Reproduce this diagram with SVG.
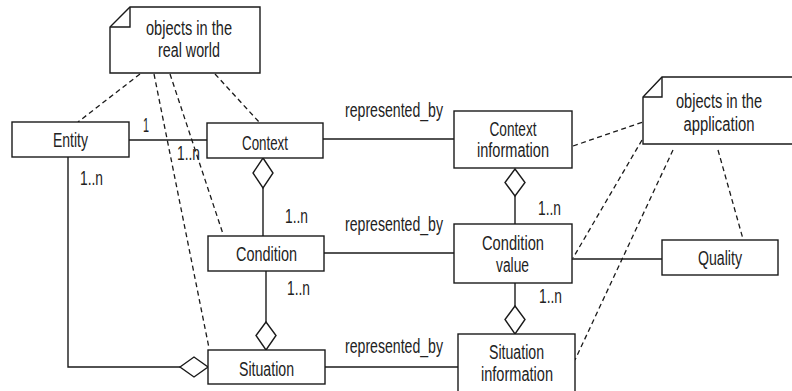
<svg xmlns="http://www.w3.org/2000/svg" width="792" height="391" viewBox="0 0 792 391">
  <style>
    .box { fill: #fff; stroke: #1a1a1a; stroke-width: 1.4; }
    .line { fill: none; stroke: #1a1a1a; stroke-width: 1.4; }
    .dash { fill: none; stroke: #1a1a1a; stroke-width: 1.3; stroke-dasharray: 5 3.5; }
    .dia { fill: #fff; stroke: #1a1a1a; stroke-width: 1.4; }
    text { font-family: "Liberation Sans", Arial, sans-serif; font-size: 20px; fill: #222; }
    .c { text-anchor: middle; }
  </style>
  <rect width="792" height="391" fill="#fff"/>

  <!-- connectors -->
  <g id="connectors">
    <!-- dashed note links -->
    <line class="dash" x1="140" y1="74" x2="78" y2="122"/>
    <line class="dash" x1="154" y1="74" x2="209" y2="348"/>
    <line class="dash" x1="170" y1="74" x2="223" y2="234"/>
    <line class="dash" x1="215" y1="74" x2="259" y2="122"/>
    <line class="dash" x1="573" y1="146" x2="643" y2="122"/>
    <line class="dash" x1="642" y1="140" x2="573" y2="258"/>
    <line class="dash" x1="673" y1="150" x2="575" y2="360"/>
    <line class="dash" x1="718" y1="150" x2="743" y2="239"/>

    <!-- associations -->
    <line class="line" x1="129" y1="140" x2="207" y2="140"/>
    <polyline class="line" points="68,157 68,367 180,367"/>
    <line class="line" x1="323" y1="139" x2="454" y2="139"/>
    <line class="line" x1="324" y1="253" x2="454" y2="253"/>
    <line class="line" x1="325" y1="367" x2="458" y2="367"/>
    <line class="line" x1="572" y1="259" x2="662" y2="259"/>
    <line class="line" x1="263" y1="188" x2="263" y2="236"/>
    <line class="line" x1="266" y1="271" x2="266" y2="322"/>
    <line class="line" x1="515" y1="196" x2="515" y2="224"/>
    <line class="line" x1="515" y1="283" x2="515" y2="306"/>

    <!-- aggregation diamonds -->
    <polygon class="dia" points="263,158 273,173 263,188 253,173"/>
    <polygon class="dia" points="266,322 276,335.5 266,350 256,335.5"/>
    <polygon class="dia" points="515,169 525,182.5 515,196 505,182.5"/>
    <polygon class="dia" points="515,306 525,319.5 515,334 505,319.5"/>
    <polygon class="dia" points="180,367 194,357 208,367 194,377"/>

    <!-- multiplicities and role labels -->
    <text x="143" y="132" textLength="6" lengthAdjust="spacingAndGlyphs">1</text>
    <text x="177" y="160" textLength="23" lengthAdjust="spacingAndGlyphs">1..n</text>
    <text x="80" y="185" textLength="23" lengthAdjust="spacingAndGlyphs">1..n</text>
    <text x="285" y="223" textLength="23" lengthAdjust="spacingAndGlyphs">1..n</text>
    <text x="287" y="295" textLength="23" lengthAdjust="spacingAndGlyphs">1..n</text>
    <text x="538" y="215" textLength="23" lengthAdjust="spacingAndGlyphs">1..n</text>
    <text x="539" y="303" textLength="23" lengthAdjust="spacingAndGlyphs">1..n</text>
    <text x="345" y="117" textLength="98" lengthAdjust="spacingAndGlyphs">represented_by</text>
    <text x="345" y="231" textLength="98" lengthAdjust="spacingAndGlyphs">represented_by</text>
    <text x="345" y="353" textLength="98" lengthAdjust="spacingAndGlyphs">represented_by</text>
  </g>

  <!-- notes -->
  <g id="note-real-world">
    <polygon class="box" points="130,7 260,7 260,73 110,73 110,27"/>
    <polyline class="line" points="130,7 130,27 110,27"/>
    <text class="c" x="189" y="35" textLength="86" lengthAdjust="spacingAndGlyphs">objects in the</text>
    <text class="c" x="189" y="57" textLength="62" lengthAdjust="spacingAndGlyphs">real world</text>
  </g>
  <g id="note-application">
    <polygon class="box" points="662,77 800,77 800,144 643,144 643,97"/>
    <polyline class="line" points="662,77 662,97 643,97"/>
    <text class="c" x="719" y="108" textLength="86" lengthAdjust="spacingAndGlyphs">objects in the</text>
    <text class="c" x="719" y="131" textLength="71" lengthAdjust="spacingAndGlyphs">application</text>
  </g>

  <!-- classes -->
  <g id="entity">
    <rect class="box" x="12" y="122" width="117" height="35"/>
    <text class="c" x="70.5" y="147" textLength="35" lengthAdjust="spacingAndGlyphs">Entity</text>
  </g>
  <g id="context">
    <rect class="box" x="207" y="123" width="116" height="35"/>
    <text class="c" x="265" y="150" textLength="46" lengthAdjust="spacingAndGlyphs">Context</text>
  </g>
  <g id="condition">
    <rect class="box" x="208" y="236" width="116" height="35"/>
    <text class="c" x="266.5" y="261" textLength="61" lengthAdjust="spacingAndGlyphs">Condition</text>
  </g>
  <g id="situation">
    <rect class="box" x="208" y="350" width="117" height="34"/>
    <text class="c" x="266.5" y="376" textLength="55" lengthAdjust="spacingAndGlyphs">Situation</text>
  </g>
  <g id="context-information">
    <rect class="box" x="454" y="111" width="118" height="57"/>
    <text class="c" x="513" y="136" textLength="47" lengthAdjust="spacingAndGlyphs">Context</text>
    <text class="c" x="513" y="157" textLength="72" lengthAdjust="spacingAndGlyphs">information</text>
  </g>
  <g id="condition-value">
    <rect class="box" x="454" y="224" width="118" height="59"/>
    <text class="c" x="513" y="250" textLength="62" lengthAdjust="spacingAndGlyphs">Condition</text>
    <text class="c" x="512.5" y="272" textLength="33" lengthAdjust="spacingAndGlyphs">value</text>
  </g>
  <g id="situation-information">
    <rect class="box" x="458" y="334" width="117" height="62"/>
    <text class="c" x="516.5" y="359" textLength="55" lengthAdjust="spacingAndGlyphs">Situation</text>
    <text class="c" x="517" y="381" textLength="72" lengthAdjust="spacingAndGlyphs">information</text>
  </g>
  <g id="quality">
    <rect class="box" x="662" y="240" width="116" height="35"/>
    <text class="c" x="720" y="265" textLength="44" lengthAdjust="spacingAndGlyphs">Quality</text>
  </g>
</svg>
